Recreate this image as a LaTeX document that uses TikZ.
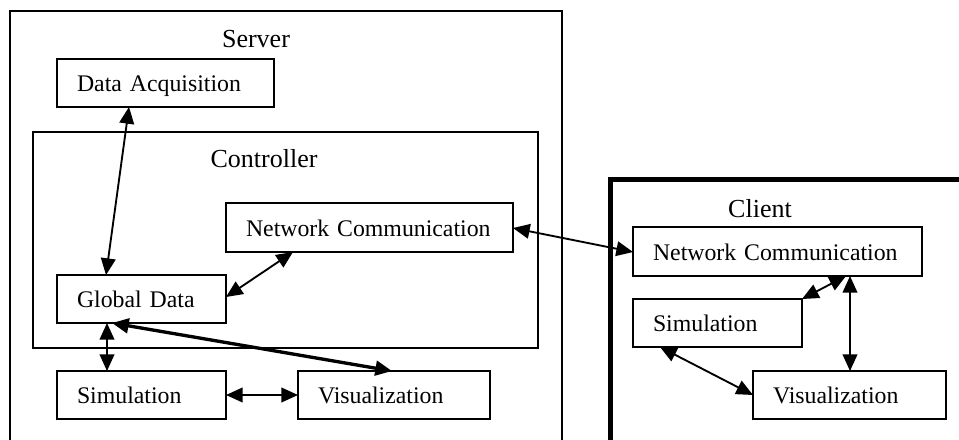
\documentclass[tikz,border=0pt]{standalone}
\usepackage{fontspec}
\setmainfont{Liberation Serif}
\usetikzlibrary{arrows.meta,calc}
\begin{document}
\begin{tikzpicture}[x=0.75pt,y=-0.75pt,
  blk/.style={draw, line width=1pt, rectangle, anchor=north west, outer sep=0pt,
    inner xsep=15pt, text width=#1, align=left, minimum height=36pt,
    text height=13pt, text depth=0pt, font=\fontsize{17.85}{20}\selectfont},
  frame/.style={draw, line width=1pt, rectangle, anchor=north west, outer sep=0pt, inner sep=0pt},
  ttl/.style={anchor=base, inner sep=0pt, font=\fontsize{19.5}{22}\selectfont},
  link/.style={line width=1.4pt, {Triangle[length=12.5pt,width=11pt]}-{Triangle[length=12.5pt,width=11pt]}},
  boldlink/.style={line width=2.5pt, {Triangle[length=12.5pt,width=11pt]}-{Triangle[length=12.5pt,width=11pt]}}]
\useasboundingbox (0,0) rectangle (959,439);
\fill[white] (0,0) rectangle (959,439);
\clip (0,0) rectangle (959,439);

% Server side
\draw[line width=1pt] (10,450) |- (562,11) -- (562,450);
\node[ttl] (srvlbl) at (256,47) {Server};
\node[blk=132.75pt] (da) at (57,59) {Data Acquisition};
\node[frame, minimum width=378.75pt, minimum height=162pt] (ctrl) at (33,132) {};
\node[ttl] (ctrllbl) at (264,167) {Controller};
\node[blk=185.25pt, minimum height=36.75pt] (snc) at (226,203) {Network~Communication};
\node[blk=96.75pt] (gd) at (57,275) {Global Data};
\node[blk=96.75pt] (ssim) at (57,371) {Simulation};
\node[blk=114pt] (svis) at (298,371) {Visualization};

% Client side
\draw[line width=3.75pt] (610,450) |- (975,179);
\node[ttl] (clilbl) at (760,217) {Client};
\node[blk=186.75pt, minimum height=36.75pt] (cnc) at (633,227) {Network~Communication};
\node[blk=96.75pt] (csim) at (633,299) {Simulation};
\node[blk=114.75pt] (cvis) at (753,371) {Visualization};

% Server connectors
\draw[link] ($(da.south west)+(72,0)$) -- ($(gd.north west)+(49,0)$);
\draw[link] ($(snc.south west)+(67,0)$) -- ($(gd.north east)+(0,22)$);
\draw[link] ($(gd.south west)+(50,0)$) -- ($(ssim.north west)+(50,0)$);
\draw[boldlink] ($(gd.south west)+(55,0)$) -- ($(svis.north west)+(94,0)$);
\draw[link] (ssim.east) -- (svis.west);

% Server to client
\draw[link] ($(snc.north east)+(0,25)$) -- ($(cnc.north west)+(0,25)$);

% Client connectors
\draw[link] ($(cnc.south west)+(213,0)$) -- (csim.north east);
\draw[link] ($(cnc.south west)+(217,0)$) -- ($(cvis.north west)+(97,0)$);
\draw[link] ($(csim.south west)+(27,0)$) -- ($(cvis.north west)+(0,24)$);
\end{tikzpicture}
\end{document}
